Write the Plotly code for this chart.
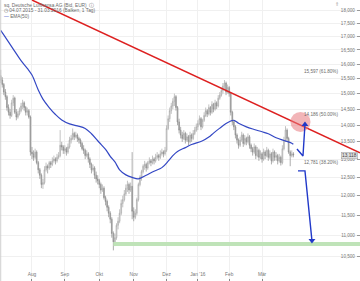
import numpy as np
import pandas as pd
import plotly.graph_objects as go

# ---------------- data ----------------
holidays = ["2015-12-24", "2015-12-25", "2015-12-31", "2016-01-01", "2016-03-25", "2016-03-28"]
trade_days = [d for d in pd.bdate_range("2015-07-06", "2016-03-31") if d.strftime("%Y-%m-%d") not in holidays]

open_ = [15.60,15.45,15.30,15.05,14.90,14.55,14.40,14.30,14.70,14.85,14.40,14.25,14.35,14.45,14.60,14.70,14.55,14.40,14.45,14.25,
         13.20,13.15,13.05,13.20,12.90,12.70,12.55,12.30,12.35,12.70,12.80,12.75,12.90,12.85,12.95,13.00,12.95,13.05,13.10,13.40,13.35,
         13.25,13.30,13.20,13.35,13.55,13.60,13.75,13.65,13.70,13.60,13.55,13.45,13.30,13.25,13.10,13.15,13.00,12.85,12.70,12.75,12.55,12.45,
         12.40,12.30,12.15,12.20,11.95,11.85,11.70,11.55,11.40,11.05,10.85,10.95,11.25,11.35,11.55,11.80,11.90,12.05,12.20,12.30,12.15,12.25,
         11.60,11.45,11.55,11.90,12.30,12.50,12.65,12.80,12.85,12.75,12.90,12.95,12.90,13.00,12.95,13.05,13.10,13.05,13.15,13.20,13.15,
         13.25,13.90,14.20,14.45,14.60,14.75,14.90,14.55,14.10,13.85,13.70,13.60,13.75,13.55,13.65,13.50,13.70,13.60,13.75,13.85,
         13.95,14.05,14.20,13.95,14.15,14.30,14.45,14.35,14.55,14.40,14.65,14.50,14.70,14.60,14.85,14.95,15.10,15.25,15.35,15.05,
         15.20,15.00,14.40,14.10,13.95,13.70,13.55,13.40,13.55,13.70,13.45,13.60,13.50,13.65,13.40,13.30,13.20,13.35,13.10,13.25,13.05,
         13.15,13.00,13.20,13.10,13.25,13.05,13.15,12.95,13.20,13.05,13.10,12.95,13.05,12.90,13.30,13.55,13.85,13.60,13.20,13.10,13.15]
high = [15.80,15.55,15.35,15.15,14.95,14.65,14.50,14.80,14.95,14.90,14.50,14.45,14.55,14.70,14.80,14.75,14.60,14.55,14.50,14.30,
        13.35,13.25,13.30,13.25,12.95,12.75,12.60,12.45,12.80,12.90,12.85,12.95,12.95,13.05,13.10,13.05,13.15,13.20,13.85,13.50,13.40,
        13.40,13.35,13.45,13.65,13.70,13.90,13.80,13.80,13.75,13.65,13.60,13.50,13.40,13.30,13.25,13.20,13.05,12.90,12.85,12.80,12.65,12.55,
        12.45,12.35,12.30,12.25,12.00,11.90,11.75,11.60,11.45,11.10,11.05,11.30,11.45,11.65,11.90,12.00,12.15,12.30,12.40,12.35,12.35,13.20,
        11.70,11.65,11.95,12.35,12.55,12.70,12.85,12.95,12.90,12.95,13.05,13.00,13.10,13.05,13.15,13.20,13.15,13.25,13.30,13.25,13.35,
        14.00,14.30,14.55,14.70,14.85,15.00,14.95,14.60,14.20,13.95,13.80,13.85,13.80,13.75,13.70,13.80,13.75,13.85,13.95,14.05,
        14.15,14.30,14.25,14.20,14.40,14.55,14.50,14.65,14.60,14.75,14.70,14.80,14.75,14.95,15.05,15.20,15.35,15.45,15.40,15.30,
        15.25,15.05,14.45,14.15,14.00,13.75,13.60,13.65,13.80,13.75,13.70,13.65,13.75,13.70,13.45,13.35,13.45,13.40,13.35,13.30,13.25,
        13.20,13.30,13.25,13.35,13.30,13.25,13.20,13.30,13.25,13.20,13.15,13.15,13.10,13.40,13.65,13.97,13.90,13.65,13.25,13.25,13.20]
low = [15.35,15.20,14.95,14.80,14.45,14.30,14.20,14.25,14.60,14.35,14.15,14.20,14.30,14.40,14.50,14.45,14.30,14.30,14.20,13.10,
       13.00,12.95,13.00,12.85,12.60,12.45,12.20,12.18,12.30,12.65,12.60,12.70,12.75,12.80,12.90,12.85,12.90,13.00,13.05,13.25,13.15,
       13.15,13.10,13.15,13.30,13.45,13.55,13.55,13.60,13.50,13.45,13.35,13.25,13.15,13.00,13.05,12.90,12.75,12.60,12.65,12.45,12.35,12.30,
       12.20,12.05,12.10,11.90,11.75,11.60,11.45,11.30,10.95,10.65,10.75,10.90,11.15,11.30,11.50,11.70,11.85,12.00,12.10,12.05,12.10,11.40,
       11.35,11.40,11.50,11.85,12.25,12.40,12.60,12.70,12.65,12.70,12.85,12.80,12.85,12.85,12.90,13.00,12.95,13.00,13.10,13.05,13.10,
       13.20,13.85,14.10,14.35,14.50,14.60,14.45,14.00,13.75,13.60,13.50,13.55,13.45,13.50,13.40,13.45,13.50,13.55,13.70,13.80,
       13.85,14.00,13.85,13.90,14.10,14.25,14.25,14.30,14.30,14.35,14.40,14.45,14.50,14.55,14.80,14.90,15.00,15.15,14.95,15.00,
       14.90,14.30,14.00,13.85,13.60,13.45,13.30,13.35,13.50,13.35,13.40,13.40,13.45,13.30,13.20,13.10,13.15,13.00,13.05,12.95,13.00,
       12.90,12.95,13.00,13.05,12.95,13.00,12.85,12.90,12.95,12.95,12.85,12.90,12.82,12.85,13.25,13.50,13.50,13.15,12.80,13.05,13.05]
close = [15.45,15.30,15.05,14.90,14.55,14.40,14.30,14.70,14.85,14.40,14.25,14.35,14.45,14.60,14.70,14.55,14.40,14.45,14.25,13.20,
         13.15,13.05,13.20,12.90,12.70,12.55,12.30,12.35,12.70,12.80,12.75,12.90,12.85,12.95,13.00,12.95,13.05,13.10,13.40,13.35,13.25,
         13.30,13.20,13.35,13.55,13.60,13.75,13.65,13.70,13.60,13.55,13.45,13.30,13.25,13.10,13.15,13.00,12.85,12.70,12.75,12.55,12.45,12.40,
         12.30,12.15,12.20,11.95,11.85,11.70,11.55,11.40,11.05,10.85,10.95,11.25,11.35,11.55,11.80,11.90,12.05,12.20,12.30,12.15,12.25,11.60,
         11.45,11.55,11.90,12.30,12.50,12.65,12.80,12.85,12.75,12.90,12.95,12.90,13.00,12.95,13.05,13.10,13.05,13.15,13.20,13.15,13.25,
         13.90,14.20,14.45,14.60,14.75,14.90,14.55,14.10,13.85,13.70,13.60,13.75,13.55,13.65,13.50,13.70,13.60,13.75,13.85,13.95,
         14.05,14.20,13.95,14.15,14.30,14.45,14.35,14.55,14.40,14.65,14.50,14.70,14.60,14.85,14.95,15.10,15.25,15.35,15.05,15.20,
         15.00,14.40,14.10,13.95,13.70,13.55,13.40,13.55,13.70,13.45,13.60,13.50,13.65,13.40,13.30,13.20,13.35,13.10,13.25,13.05,13.15,
         13.00,13.20,13.10,13.25,13.05,13.15,12.95,13.20,13.05,13.10,12.95,13.05,12.90,13.30,13.55,13.85,13.60,13.20,13.10,13.15,13.12]

ema_dates = ["2015-07-06","2015-07-10","2015-07-17","2015-07-23","2015-07-29","2015-08-03","2015-08-07","2015-08-12",
             "2015-08-18","2015-08-24","2015-08-28","2015-09-04","2015-09-11","2015-09-18","2015-09-24","2015-10-01",
             "2015-10-07","2015-10-12","2015-10-15","2015-10-20","2015-10-26","2015-10-30","2015-11-05","2015-11-12",
             "2015-11-19","2015-11-26","2015-12-02","2015-12-07","2015-12-10","2015-12-17","2015-12-23","2016-01-07",
             "2016-01-13","2016-01-18","2016-01-22","2016-01-28","2016-02-02","2016-02-04","2016-02-09","2016-02-16",
             "2016-02-23","2016-03-01","2016-03-07","2016-03-14","2016-03-21","2016-03-30","2016-03-31"]
ema_values = [17.22,16.88,16.45,16.12,15.85,15.62,15.12,14.82,14.55,14.33,14.16,14.04,13.98,13.90,13.74,13.48,
              13.28,13.08,12.92,12.70,12.56,12.49,12.45,12.55,12.66,12.76,12.94,13.10,13.22,13.33,13.42,13.53,
              13.64,13.76,13.91,14.05,14.13,14.15,14.06,13.95,13.87,13.80,13.74,13.62,13.54,13.46,13.43]

fib_values = [15.597, 14.186, 12.775]
fib_labels = ["15,597 (61.80%)", "14,186 (50.00%)", "12,781 (38.20%)"]

trend_x = ["2015-08-03", "2016-05-30 14:24"]
trend_y = [18.40, 13.18]

target_level = 10.80
target_x = ["2015-10-14", "2016-05-30 14:24"]

arrow_up_x = ["2016-04-04 08:00", "2016-04-08 04:00", "2016-04-11 10:30"]
arrow_up_y = [13.29, 13.09, 14.02]
arrow_down_x = ["2016-04-04 23:00", "2016-04-11 10:30", "2016-04-15 21:30"]
arrow_down_y = [12.67, 12.67, 10.88]

circle_x = ["2016-04-06 13:40"]
circle_y = [14.10]

last_price_label = "13,118"
last_price = 13.10

ytick_vals = [10.0, 10.5, 11.0, 11.5, 12.0, 12.5, 13.0, 13.5, 14.0, 14.5, 15.0, 15.5, 16.0, 16.5, 17.0, 17.5, 18.0]
ytick_text = ["10,000", "10,500", "11,000", "11,500", "12,000", "12,500", "13,000", "13,500", "14,000",
              "14,500", "15,000", "15,500", "16,000", "16,500", "17,000", "17,500", "18,000"]
xtick_vals = ["2015-08-03", "2015-09-01", "2015-10-01", "2015-11-02", "2015-12-01", "2016-01-04", "2016-02-01", "2016-03-01"]
xtick_text = ["Aug", "Sep", "Okt", "Nov", "Dez", "Jan '16", "Feb", "Mär"]

x_range = ["2015-07-03 13:26", "2016-05-30 14:24"]
y_range = [0.99829, 1.26490]

# ---------------- figure ----------------
L = np.log10
fig = go.Figure()

fig.add_trace(go.Scatter(x=target_x, y=[target_level, target_level], mode="lines",
                         line=dict(color="#bfe3b8", width=4), showlegend=False, hoverinfo="skip"))

fig.add_trace(go.Candlestick(
    x=trade_days, open=open_, high=high, low=low, close=close,
    increasing=dict(line=dict(color="#a8a8a8", width=0.7), fillcolor="#f0f0f0"),
    decreasing=dict(line=dict(color="#8a8a8a", width=0.7), fillcolor="#bcbcbc"),
    whiskerwidth=0, showlegend=False, hoverinfo="skip"))

fig.add_trace(go.Scatter(x=ema_dates, y=ema_values, mode="lines", line=dict(color="#3347c4", width=1.2, shape="spline"),
                         showlegend=False, hoverinfo="skip"))

fig.add_trace(go.Scatter(x=trend_x, y=trend_y, mode="lines", line=dict(color="#dd2020", width=1.6),
                         showlegend=False, hoverinfo="skip"))

fig.add_trace(go.Scatter(x=circle_x, y=circle_y, mode="markers",
                         marker=dict(size=20, color="rgba(232,120,125,0.55)", line=dict(width=0)),
                         showlegend=False, hoverinfo="skip"))

blue = "#2139c9"
for ax_, ay_, sym in [(arrow_up_x, arrow_up_y, "triangle-up"), (arrow_down_x, arrow_down_y, "triangle-down")]:
    fig.add_trace(go.Scatter(x=ax_, y=ay_, mode="lines", line=dict(color=blue, width=1.4),
                             showlegend=False, hoverinfo="skip"))
    fig.add_trace(go.Scatter(x=[ax_[-1]], y=[ay_[-1]], mode="markers",
                             marker=dict(symbol=sym, size=6, color=blue, line=dict(width=0)),
                             showlegend=False, hoverinfo="skip"))

shapes = []
for v in fib_values:
    shapes.append(dict(type="line", xref="paper", x0=0, x1=1, yref="y", y0=L(v), y1=L(v),
                       line=dict(color="#8796cf", width=1), layer="above"))
shapes.append(dict(type="line", xref="paper", yref="paper", x0=0.002, x1=0.002, y0=0, y1=1,
                   line=dict(color="#cfcfcf", width=1)))

ann = []
for v, t in zip(fib_values, fib_labels):
    ann.append(dict(xref="paper", x=0.945, yref="y", y=L(v), text=t, showarrow=False, xanchor="right",
                    yanchor="bottom", font=dict(size=4.6, color="#6a6a6a", family="Liberation Sans")))
ann.append(dict(xref="paper", x=0.994, yref="y", y=L(last_price), text=last_price_label, showarrow=False,
                xanchor="right", yanchor="middle", bgcolor="#dedede", bordercolor="#a0a0a0", borderwidth=0.5,
                borderpad=0.5, font=dict(size=4.8, color="#444", family="Liberation Sans")))
hdr_font = dict(size=4.8, color="#6a6a6a", family="Liberation Sans")
ann.append(dict(xref="paper", yref="paper", x=0.006, y=1 - 4.5 / 281, xanchor="left", yanchor="middle",
                text="sq. Deutsche Lufthansa AG (Bid, EUR)  \u24d8", showarrow=False, font=hdr_font))
ann.append(dict(xref="paper", yref="paper", x=0.006, y=1 - 10.5 / 281, xanchor="left", yanchor="middle",
                text="\u25f7 04.07.2015 - 31.03.2016 (Balken, 1 Tag)", showarrow=False, font=hdr_font))
ann.append(dict(xref="paper", yref="paper", x=0.006, y=1 - 16.5 / 281, xanchor="left", yanchor="middle",
                text="<span style='color:#3347c4'>\u2014</span> EMA(50)", showarrow=False, font=hdr_font))
ann.append(dict(xref="paper", yref="paper", x=0.936, y=1 - 3.5 / 281, xanchor="center", yanchor="middle",
                text="\u21d1", showarrow=False, font=dict(size=5, color="#999")))

fig.update_layout(
    width=360, height=281, autosize=False,
    margin=dict(l=0, r=0, t=0, b=0),
    paper_bgcolor="white", plot_bgcolor="white",
    showlegend=False, hovermode=False,
    shapes=shapes, annotations=ann,
    xaxis=dict(type="date", range=x_range, rangeslider=dict(visible=False),
               rangebreaks=[dict(bounds=["sat", "mon"]), dict(values=holidays)],
               tickmode="array", tickvals=xtick_vals, ticktext=xtick_text,
               ticks="inside", ticklen=2, tickcolor="#888", ticklabelposition="inside",
               tickfont=dict(size=4.8, color="#777", family="Liberation Sans"),
               showgrid=True, gridcolor="#f0f0f0", gridwidth=1, zeroline=False, showline=False),
    yaxis=dict(type="log", range=y_range, side="right", tickmode="array", tickvals=ytick_vals, ticktext=ytick_text,
               ticks="inside", ticklen=3, tickcolor="#999", ticklabelposition="inside",
               tickfont=dict(size=4.6, color="#777", family="Liberation Sans"),
               showgrid=True, gridcolor="#f0f0f0", gridwidth=1, zeroline=False, showline=False),
)

fig.write_html("out.html", post_script="document.body.style.margin='0';")
